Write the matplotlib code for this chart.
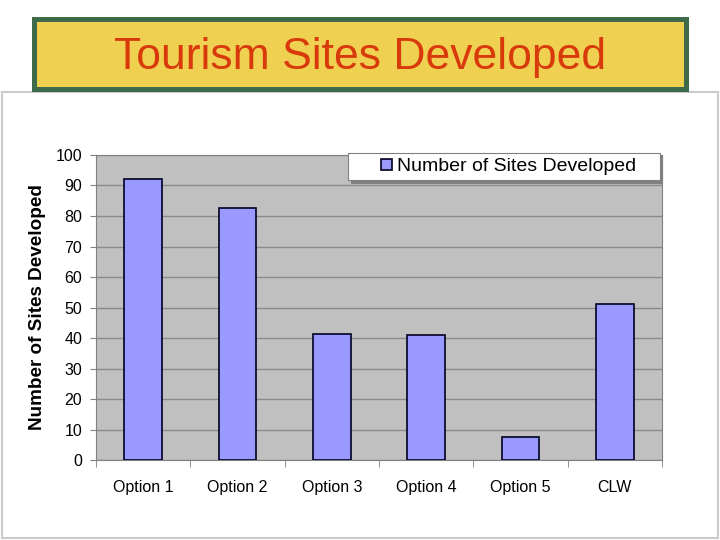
import numpy as np
import matplotlib
matplotlib.use("Agg")
import matplotlib.pyplot as plt
from matplotlib.patches import Rectangle
from matplotlib.container import BarContainer
from matplotlib import legend_handler

plt.rcParams['font.family'] = ['Liberation Sans', 'DejaVu Sans']

# data
options = ['Option 1', 'Option 2', 'Option 3', 'Option 4', 'Option 5', 'CLW']
sites = [92, 82.5, 41.3, 41, 7.5, 51]
series_name = 'Number of Sites Developed'

fig = plt.figure(figsize=(7.2, 5.4), dpi=100)

# title banner
fig.patches.append(Rectangle((0.047, 0.835), 0.906, 0.13, transform=fig.transFigure,
                             facecolor='#f0d050', edgecolor='#3d6b4a', linewidth=3.6,
                             zorder=-1))
fig.text(0.5, 0.893, 'Tourism Sites Developed', ha='center', va='center',
         fontsize=32, color='#d83a0c')

# panel frame under the banner
fig.patches.append(Rectangle((0.003, 0.004), 0.994, 0.826, transform=fig.transFigure,
                             facecolor='white', edgecolor='#cccccc', linewidth=1.5,
                             zorder=-2))

ax = fig.add_axes([0.1333, 0.148, 0.786, 0.565])
ax.set_facecolor('#c0c0c0')
x = np.arange(len(options))
ax.bar(x, sites, width=0.4, color='#9999ff', edgecolor='#000020', linewidth=1.2,
       label=series_name, zorder=3)

ax.set_xlim(-0.5, len(options) - 0.5)
ax.set_ylim(0, 100)
ax.set_yticks(np.arange(0, 101, 10))
ax.yaxis.grid(True, color='#8a8a8a', linewidth=1, zorder=1)
ax.set_axisbelow(True)

ax.set_xticks(x)
ax.set_xticklabels(options, fontsize=11.5)
ax.set_xticks(np.arange(-0.5, len(options)), minor=True)
ax.tick_params(axis='x', which='major', length=0, pad=14)
ax.tick_params(axis='x', which='minor', length=5, color='#808080')
ax.tick_params(axis='y', length=4, color='#808080', labelsize=11.5, pad=6)

for side in ['top', 'right', 'left', 'bottom']:
    ax.spines[side].set_color('#808080')

ax.set_ylabel(series_name, fontsize=13.6, fontweight='bold', labelpad=7)


# small square key sitting at the right end of the handle box
def square_key(legend, orig_handle, xdescent, ydescent, width, height, fontsize):
    s = 7.5
    return Rectangle((width - xdescent - s, -ydescent + (height - s) / 2), s, s)


key_handler = legend_handler.HandlerPatch(patch_func=square_key,
                                          update_func=legend_handler.update_from_first_child)
leg = ax.legend(loc='upper left', bbox_to_anchor=(0.445, 0, 0.551, 1.0066),
                mode='expand', fontsize=14,
                frameon=True, fancybox=False, shadow={'color': '#808080', 'alpha': 1},
                handlelength=2.0, handletextpad=0.3,
                borderpad=0.25, borderaxespad=0,
                handler_map={BarContainer: key_handler})
leg.get_frame().set_edgecolor('#808080')
leg.get_frame().set_linewidth(0.8)
leg.get_frame().set_alpha(1)

fig.savefig('out.png', dpi=100)
